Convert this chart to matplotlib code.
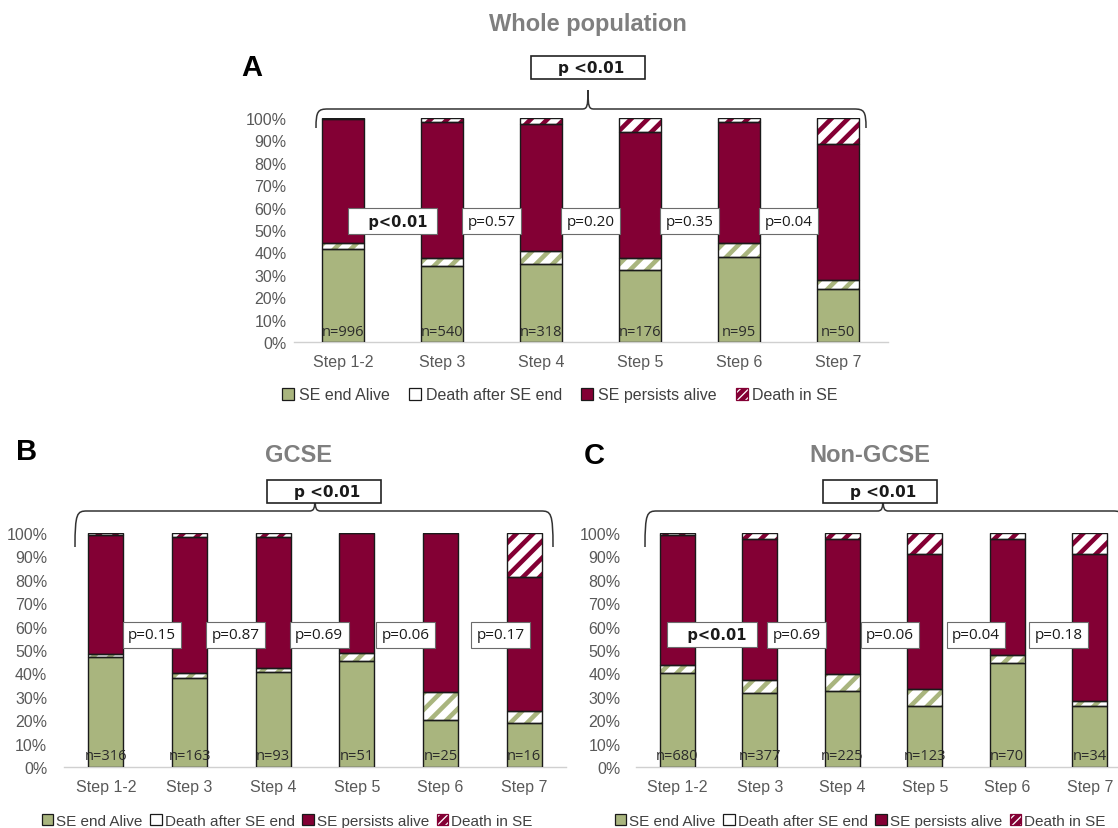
import matplotlib
matplotlib.use("Agg")
import matplotlib.pyplot as plt
from matplotlib.path import Path
from matplotlib.patches import PathPatch, Patch, Rectangle
import numpy as np

# ---------------- data ----------------
steps = ["Step 1-2", "Step 3", "Step 4", "Step 5", "Step 6", "Step 7"]
series_names = ["SE end Alive", "Death after SE end", "SE persists alive", "Death in SE"]

# Panel A: whole population (% of patients)
a_end_alive = [41.7, 33.8, 34.8, 32.0, 37.8, 23.8]
a_death_after = [2.5, 3.8, 5.7, 5.6, 6.5, 3.7]
a_persist_alive = [55.5, 60.6, 56.8, 56.0, 53.9, 61.0]
a_death_in = [0.3, 1.8, 2.7, 6.4, 1.8, 11.5]
a_n = [996, 540, 318, 176, 95, 50]
a_pairwise = ["p<0.01", "p=0.57", "p=0.20", "p=0.35", "p=0.04"]
a_overall = "p <0.01"

# Panel B: GCSE
b_end_alive = [47.2, 38.0, 40.7, 45.5, 20.0, 18.8]
b_death_after = [0.9, 2.0, 1.8, 3.3, 12.0, 5.2]
b_persist_alive = [51.0, 58.3, 55.8, 51.2, 68.0, 57.2]
b_death_in = [0.9, 1.7, 1.7, 0.0, 0.0, 18.8]
b_n = [316, 163, 93, 51, 25, 16]
b_pairwise = ["p=0.15", "p=0.87", "p=0.69", "p=0.06", "p=0.17"]
b_overall = "p <0.01"

# Panel C: Non-GCSE
c_end_alive = [40.1, 31.6, 32.6, 26.2, 44.5, 26.2]
c_death_after = [3.3, 5.4, 7.2, 7.2, 3.4, 2.2]
c_persist_alive = [55.7, 60.4, 57.6, 57.5, 49.5, 62.5]
c_death_in = [0.9, 2.6, 2.6, 9.1, 2.6, 9.1]
c_n = [680, 377, 225, 123, 70, 34]
c_pairwise = ["p<0.01", "p=0.69", "p=0.06", "p=0.04", "p=0.18"]
c_overall = "p <0.01"

# ---------------- style ----------------
GREEN = "#A9B57E"
RED = "#830034"
TXT = "#595959"
W, H = 1118, 829

plt.rcParams["hatch.linewidth"] = 3.3
plt.rcParams["font.family"] = ["Liberation Sans", "DejaVu Sans"]

fig = plt.figure(figsize=(W / 100, H / 100), dpi=100)


def px(x, y):
    return (x / W, 1 - y / H)


def draw_panel(rect, end_alive, death_after, persist, death_in, ns, pw, pw_x, pw_y,
               tick_pad, bold_first):
    l, b = px(rect[0], rect[3])
    r, t = px(rect[1], rect[2])
    ax = fig.add_axes([l, b, r - l, t - b])
    x = np.arange(len(steps))
    width = 0.42
    series = [end_alive, death_after, persist, death_in]
    bottom = np.zeros(len(steps))
    styles = [
        dict(color=GREEN, hatch=None),
        dict(color="white", hatch="//", hcol=GREEN),
        dict(color=RED, hatch=None),
        dict(color="white", hatch="//", hcol=RED),
    ]
    for vals, st in zip(series, styles):
        vals = np.array(vals, dtype=float)
        if st["hatch"]:
            ax.bar(x, vals, width, bottom=bottom, color="white", edgecolor=st["hcol"],
                   hatch=st["hatch"], linewidth=0, zorder=2)
        else:
            ax.bar(x, vals, width, bottom=bottom, color=st["color"], linewidth=0, zorder=2)
        ax.bar(x, vals, width, bottom=bottom, fill=False, edgecolor="#1a1a1a",
               linewidth=1.0, zorder=3)
        bottom += vals
    for xi, n in zip(x, ns):
        ax.text(xi, 1.5, f"n={n}", ha="center", va="bottom", fontsize=10.5,
                family="Open Sans", color="#2b2b2b", zorder=5)
    for i, (lab, xo) in enumerate(zip(pw, pw_x)):
        bold = lab == "p<0.01" and bold_first
        ax.text(xo, pw_y, ("   " + lab + " ") if bold else lab, ha="center", va="center",
                fontsize=10.5 if bold else 11,
                family="DejaVu Sans" if bold else "Open Sans",
                fontweight="bold" if bold else "normal", color="#1a1a1a", zorder=6,
                bbox=dict(boxstyle="square,pad=0.35", fc="white", ec="#6b6b6b", lw=0.8))
    ax.set_xlim(-0.5, len(steps) - 0.5)
    ax.set_ylim(0, 100)
    ax.set_xticks(x)
    ax.set_xticklabels(steps, fontsize=11.5, color=TXT)
    ax.set_yticks(np.arange(0, 101, 10))
    ax.set_yticklabels([f"{v}%" for v in range(0, 101, 10)], fontsize=11.5, color=TXT)
    ax.tick_params(axis="both", length=0)
    ax.tick_params(axis="y", pad=tick_pad)
    ax.tick_params(axis="x", pad=9)
    for s in ["top", "right", "left"]:
        ax.spines[s].set_visible(False)
    ax.spines["bottom"].set_color("#d0d0d0")
    ax.spines["bottom"].set_linewidth(1.0)
    ax.patch.set_alpha(0)
    return ax


def brace(x0, x1, xm, y_line, y_end, y_tip, r=12):
    verts = [
        (x0, y_end), (x0, y_line + 2), (x0 + 2, y_line), (x0 + r, y_line),
        (xm - 6, y_line),
        (xm - 1, y_line), (xm, y_line - 2), (xm, y_tip),
        (xm, y_line - 2), (xm + 1, y_line), (xm + 6, y_line),
        (x1 - r, y_line),
        (x1 - 2, y_line), (x1, y_line + 2), (x1, y_end),
    ]
    codes = [Path.MOVETO, Path.CURVE4, Path.CURVE4, Path.CURVE4,
             Path.LINETO,
             Path.CURVE4, Path.CURVE4, Path.CURVE4,
             Path.CURVE4, Path.CURVE4, Path.CURVE4,
             Path.LINETO,
             Path.CURVE4, Path.CURVE4, Path.CURVE4]
    verts = [px(vx, vy) for vx, vy in verts]
    fig.add_artist(PathPatch(Path(verts, codes), fill=False, ec="#333333", lw=1.1,
                             transform=fig.transFigure, zorder=10))


def top_box(xc, yc, text, w=114, h=23):
    x0, y0 = px(xc - w / 2, yc + h / 2)
    fig.add_artist(Rectangle((x0, y0), w / W, h / H, transform=fig.transFigure,
                             fc="white", ec="#222222", lw=1.2, zorder=11))
    fig.text(*px(xc + 3, yc), text, ha="center", va="center", fontsize=11,
             family="DejaVu Sans", fontweight="bold", color="#1a1a1a", zorder=12)


def legend(xc, yc, fs, colsp, hp):
    handles = [
        Patch(facecolor=GREEN, edgecolor="#1a1a1a", linewidth=0.9),
        Patch(facecolor="white", edgecolor="#1a1a1a", linewidth=0.9),
        Patch(facecolor=RED, edgecolor="#1a1a1a", linewidth=0.9),
        Patch(facecolor="white", edgecolor=RED, linewidth=0.9, hatch="////"),
    ]
    fig.legend(handles, series_names, loc="center", bbox_to_anchor=px(xc, yc), ncol=4,
               frameon=False, fontsize=fs, handlelength=0.75, handleheight=0.75,
               handletextpad=hp, columnspacing=colsp, labelcolor="#404040",
               borderaxespad=0, borderpad=0)


# Panel A
draw_panel((293.5, 887.5, 119, 343), a_end_alive, a_death_after, a_persist_alive, a_death_in,
           a_n, a_pairwise, [0.5, 1.5, 2.5, 3.5, 4.5], 54, 5, True)
fig.text(*px(588, 24), "Whole population", ha="center", va="center", fontsize=17,
         fontweight="bold", color="#7f7f7f")
fig.text(*px(252, 68), "A", ha="center", va="center", fontsize=21, fontweight="bold",
         color="black")
brace(316, 866, 588, 110, 129, 91)
top_box(588, 68, a_overall)
legend(560, 396, 11.5, 1.2, 0.3)

# Panel B
draw_panel((64, 566, 534, 768), b_end_alive, b_death_after, b_persist_alive, b_death_in,
           b_n, b_pairwise, [0.55, 1.55, 2.55, 3.58, 4.72], 56.5, 12, False)
fig.text(*px(298, 456), "GCSE", ha="center", va="center", fontsize=17,
         fontweight="bold", color="#7f7f7f")
fig.text(*px(27, 452), "B", ha="center", va="center", fontsize=21, fontweight="bold",
         color="black")
brace(75, 553, 315, 512, 548, 497)
top_box(324, 492, b_overall)
legend(287, 822, 11, 0.5, 0.2)

# Panel C
draw_panel((636, 1131, 534, 768), c_end_alive, c_death_after, c_persist_alive, c_death_in,
           c_n, c_pairwise, [0.42, 1.45, 2.58, 3.62, 4.62], 56.5, 11, True)
fig.text(*px(870, 456), "Non-GCSE", ha="center", va="center", fontsize=17,
         fontweight="bold", color="#7f7f7f")
fig.text(*px(594, 456), "C", ha="center", va="center", fontsize=21, fontweight="bold",
         color="black")
brace(645, 1125, 883, 512, 548, 497)
top_box(880, 492, c_overall)
legend(860, 822, 11, 0.5, 0.2)

fig.savefig("out.png", dpi=100)
